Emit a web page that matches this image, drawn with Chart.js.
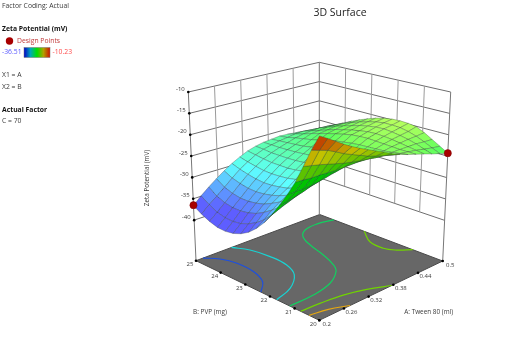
<!DOCTYPE html>
<html>
<head>
<meta charset="utf-8">
<title>3D Surface</title>
<script src="https://cdn.jsdelivr.net/npm/chart.js@4"></script>
<style>
  html, body { margin: 0; padding: 0; background: #fff; }
  canvas { display: block; }
</style>
</head>
<body>
<canvas id="surfaceChart" width="511" height="359"></canvas>
<script>
// values
var tweenLevels = [0.2,0.21875,0.2375,0.25625,0.275,0.29375,0.3125,0.33125,0.35,0.36875,0.3875,0.40625,0.425,0.44375,0.4625,0.48125,0.5];
var pvpLevels = [20,20.3125,20.625,20.9375,21.25,21.5625,21.875,22.1875,22.5,22.8125,23.125,23.4375,23.75,24.0625,24.375,24.6875,25];

// one row per tween level, one value per pvp level
var zetaRows = [
  [-10.4,-14,-18.1,-22.1,-25.4,-28.4,-31.2,-33.7,-35.7,-37.3,-38.4,-39.1,-39.4,-39.3,-38.7,-37.8,-36.6],
  [-11.5,-14.6,-18.5,-22.2,-25.4,-28.1,-30.5,-32.6,-34.4,-35.8,-36.8,-37.5,-37.8,-37.7,-37.2,-36.2,-34.9],
  [-12.7,-15.2,-18.9,-22.4,-25.4,-27.8,-29.8,-31.5,-32.9,-34.1,-35.1,-35.7,-36,-36,-35.6,-34.8,-33.4],
  [-13.9,-16.1,-19.4,-22.4,-25.3,-27.3,-29.1,-30.5,-31.7,-32.7,-33.6,-34.1,-34.4,-34.4,-34,-33.3,-32],
  [-15,-17.1,-19.9,-22.5,-25,-26.7,-28.2,-29.5,-30.8,-31.6,-32.2,-32.6,-32.8,-32.7,-32.3,-31.7,-30.7],
  [-16,-17.9,-20.4,-22.6,-24.6,-26.2,-27.4,-28.6,-29.8,-30.5,-30.9,-31.2,-31.3,-31.1,-30.7,-30.2,-29.5],
  [-16.9,-18.7,-20.8,-22.6,-24.2,-25.5,-26.6,-27.6,-28.5,-29.1,-29.5,-29.7,-29.8,-29.7,-29.4,-29,-28.5],
  [-17.8,-19.5,-21.1,-22.5,-23.7,-24.8,-25.8,-26.7,-27.3,-27.8,-28.2,-28.4,-28.4,-28.4,-28.2,-27.9,-27.6],
  [-18.7,-20.1,-21.4,-22.5,-23.3,-24.2,-24.9,-25.7,-26.2,-26.7,-27,-27.2,-27.3,-27.3,-27.3,-27.1,-27],
  [-19.7,-20.7,-21.7,-22.4,-23,-23.5,-24.1,-24.6,-25.1,-25.6,-26,-26.2,-26.4,-26.5,-26.6,-26.6,-26.6],
  [-20.5,-21.2,-21.8,-22.2,-22.6,-22.9,-23.2,-23.5,-24,-24.4,-24.9,-25.2,-25.6,-25.8,-26,-26.2,-26.4],
  [-21.2,-21.5,-21.8,-22,-22.1,-22.2,-22.3,-22.5,-22.8,-23.1,-23.7,-24.1,-24.6,-25,-25.4,-25.9,-26.2],
  [-21.8,-21.8,-21.8,-21.7,-21.6,-21.5,-21.4,-21.5,-21.7,-22.1,-22.6,-23.1,-23.7,-24.3,-25,-25.6,-26.3],
  [-22.4,-22.1,-21.8,-21.5,-21.2,-21,-20.9,-21,-21.3,-21.7,-22.2,-22.7,-23.4,-24.1,-24.8,-25.5,-26.5],
  [-23.1,-22.5,-21.8,-21.3,-20.9,-20.6,-20.4,-20.5,-20.8,-21.2,-21.8,-22.4,-23.1,-23.9,-24.7,-25.7,-26.8],
  [-23.7,-22.9,-22,-21.2,-20.6,-20.2,-20.1,-20.1,-20.4,-20.9,-21.5,-22.2,-23,-23.9,-24.8,-25.9,-27.1],
  [-24.3,-23.2,-22.1,-21,-20.1,-19.8,-19.7,-19.8,-20.1,-20.6,-21.3,-22.1,-23,-24,-25,-26.2,-27.5]
];

// floor contours as [tween, pvp] pairs
var contourLevels = [-35, -30, -25, -20, -20, -15];
var contourColors = ['#1c4fe0', '#18d4d4', '#12d060', '#70d400', '#70d400', '#e6a810'];
var contourPaths = [
  [[0.217,25],[0.2375,24.65],[0.248,24.14],[0.246,23.44],[0.23,22.8],[0.2,22.37]],
  [[0.286,25],[0.303,24.53],[0.31,23.83],[0.307,23.11],[0.289,22.5],[0.247,21.97],[0.2,21.73]],
  [[0.5,24.42],[0.467,24.55],[0.433,24.47],[0.41,24.17],[0.394,23.61],[0.381,22.86],[0.365,22.18],[0.349,21.81],[0.31,21.4],[0.258,21.21],[0.2,21.2]],
  [[0.2,20.76],[0.244,20.71],[0.294,20.6],[0.337,20.36],[0.376,20]],
  [[0.5,23.19],[0.475,22.54],[0.471,21.93],[0.481,21.55],[0.5,21.22]],
  [[0.2,20.41],[0.239,20.28],[0.275,20]]
];

var designTween = [0.2, 0.5];
var designPvp = [25, 20];
var designZeta = [-36.51, -24.3];

var tweenTicks = [0.2, 0.26, 0.32, 0.38, 0.44, 0.5];
var pvpTicks = [20, 21, 22, 23, 24, 25];
var zetaTicks = [-10, -15, -20, -25, -30, -35, -40];

var tweenMin = 0.2, tweenMax = 0.5;
var pvpMin = 20, pvpMax = 25;
var zetaFloor = -49.5, zetaTop = -10;

// box corners on the page: F front, R right, K back, L left
var floorBox = {F: [319.3, 320.3], R: [442.7, 261], K: [319.7, 214.5], L: [196, 260.7]};
var topBox = {F: [319.5, 134], R: [450.7, 92], K: [319.3, 62.3], L: [188.3, 92]};

function corner(box, u, v, n) {
  return box.F[n] * (1 - u) * (1 - v) + box.R[n] * u * (1 - v) + box.K[n] * u * v + box.L[n] * (1 - u) * v;
}

function project(tween, pvp, zeta) {
  var u = (tween - tweenMin) / (tweenMax - tweenMin);
  var v = (pvp - pvpMin) / (pvpMax - pvpMin);
  var t = (zeta - zetaFloor) / (zetaTop - zetaFloor);
  return {
    x: corner(floorBox, u, v, 0) * (1 - t) + corner(topBox, u, v, 0) * t,
    y: corner(floorBox, u, v, 1) * (1 - t) + corner(topBox, u, v, 1) * t
  };
}

// colour ramp of the response
var rampStops = [[0, 0, 255], [0, 255, 255], [0, 255, 0], [255, 255, 0], [255, 0, 0]];
var rampLow = -36.51, rampHigh = -10.23;

function surfaceColor(zeta, underside) {
  if (underside) zeta = Math.max(zeta, -23.4);
  var f = (zeta - rampLow) / (rampHigh - rampLow) * 4;
  f = Math.max(0, Math.min(3.999, f));
  var k = Math.floor(f), w = f - k, c = [];
  for (var n = 0; n < 3; n++) {
    var val = rampStops[k][n] * (1 - w) + rampStops[k + 1][n] * w;
    c.push(Math.round(underside ? val * 0.76 : val * 0.63 + 255 * 0.37));
  }
  return 'rgb(' + c.join(',') + ')';
}

var datasets = [];

function addLine(points, color, width, fillColor, smooth) {
  datasets.push({
    data: points,
    showLine: true,
    borderColor: color,
    borderWidth: width,
    backgroundColor: fillColor || 'transparent',
    fill: fillColor ? 'shape' : false,
    pointRadius: 0,
    tension: smooth ? 0.4 : 0
  });
}

// floor
var floorCorners = [[tweenMin, pvpMin], [tweenMax, pvpMin], [tweenMax, pvpMax], [tweenMin, pvpMax], [tweenMin, pvpMin]];
addLine(floorCorners.map(function (c) { return project(c[0], c[1], zetaFloor); }), '#4a4a4a', 1, '#676767');

// back walls
var lowestWall = zetaTicks[zetaTicks.length - 1];
zetaTicks.forEach(function (z) {
  addLine([project(tweenMin, pvpMax, z), project(tweenMax, pvpMax, z), project(tweenMax, pvpMin, z)], '#6e6e6e', 1);
});
tweenTicks.forEach(function (a) {
  var edge = a === tweenMin || a === tweenMax;
  addLine([project(a, pvpMax, edge ? zetaFloor : lowestWall), project(a, pvpMax, zetaTop)], edge ? '#777' : '#9a9a9a', 1);
});
pvpTicks.forEach(function (b) {
  if (b === pvpMax) return;
  var edge = b === pvpMin;
  addLine([project(tweenMax, b, edge ? zetaFloor : lowestWall), project(tweenMax, b, zetaTop)], edge ? '#777' : '#9a9a9a', 1);
});

// contours on the floor
contourPaths.forEach(function (path, n) {
  addLine(path.map(function (c) { return project(c[0], c[1], zetaFloor); }), contourColors[n], 1.2, null, true);
});

// tick marks
var tickDots = [];
tweenTicks.forEach(function (a) { tickDots.push(project(a, pvpMin, zetaFloor)); });
pvpTicks.forEach(function (b) { tickDots.push(project(tweenMin, b, zetaFloor)); });
zetaTicks.forEach(function (z) { tickDots.push(project(tweenMin, pvpMax, z)); });
datasets.push({data: tickDots, pointRadius: 1.3, pointBackgroundColor: '#000', pointBorderWidth: 0, showLine: false});

// surface, back cells first
for (var i = tweenLevels.length - 2; i >= 0; i--) {
  for (var j = pvpLevels.length - 2; j >= 0; j--) {
    var cell = [[i, j], [i + 1, j], [i + 1, j + 1], [i, j + 1], [i, j]].map(function (p) {
      return project(tweenLevels[p[0]], pvpLevels[p[1]], zetaRows[p[0]][p[1]]);
    });
    var area = 0;
    for (var q = 0; q < 4; q++) {
      area += cell[q].x * cell[q + 1].y - cell[q + 1].x * cell[q].y;
    }
    var mean = (zetaRows[i][j] + zetaRows[i + 1][j] + zetaRows[i + 1][j + 1] + zetaRows[i][j + 1]) / 4;
    addLine(cell, 'rgba(45,55,50,0.55)', 0.55, surfaceColor(mean, area > 0));
  }
}

// design points
datasets.push({
  data: designTween.map(function (a, n) { return project(a, designPvp[n], designZeta[n]); }),
  pointRadius: 3.6,
  pointBackgroundColor: '#a80000',
  pointBorderColor: '#7a0000',
  pointBorderWidth: 0.5,
  showLine: false,
  clip: false
});

// chart.js paints the first dataset last
datasets.reverse();

var labelGrey = '#3a3a3a';
var fontName = '"Open Sans", sans-serif';

function label(ctx, text, x, y, size, color, align, bold) {
  ctx.font = (bold ? 'bold ' : '') + size + 'px ' + fontName;
  ctx.fillStyle = color;
  ctx.textAlign = align || 'left';
  ctx.textBaseline = 'middle';
  ctx.fillText(text, x, y);
}

var labelsPlugin = {
  id: 'surfaceLabels',
  afterDraw: function (chart) {
    var ctx = chart.ctx;
    ctx.save();

    label(ctx, '3D Surface', 340, 13, 10.5, '#222', 'center');

    // left panel
    label(ctx, 'Factor Coding: Actual', 2, 6.5, 6.8, labelGrey);
    label(ctx, 'Zeta Potential (mV)', 2, 29.5, 6.8, '#111', 'left', true);
    ctx.beginPath();
    ctx.arc(9.5, 41, 3.7, 0, Math.PI * 2);
    ctx.fillStyle = '#a80000';
    ctx.fill();
    label(ctx, 'Design Points', 17, 41, 6.8, '#c03a3a');
    label(ctx, '-36.51', 2, 52.5, 6.8, '#5a5aff');
    var bar = ctx.createLinearGradient(24, 0, 50, 0);
    ['#0000c8', '#00a8b8', '#00e000', '#b0a000', '#d01000'].forEach(function (c, n) {
      bar.addColorStop(n / 4, c);
    });
    ctx.fillStyle = bar;
    ctx.fillRect(24, 47.5, 26, 10);
    ctx.strokeStyle = '#777';
    ctx.lineWidth = 0.5;
    ctx.strokeRect(24, 47.5, 26, 10);
    label(ctx, '-10.23', 52.5, 52.5, 6.8, '#ff4a4a');
    label(ctx, 'X1 = A', 2, 75.5, 6.8, labelGrey);
    label(ctx, 'X2 = B', 2, 87, 6.8, labelGrey);
    label(ctx, 'Actual Factor', 2, 110, 6.8, '#111', 'left', true);
    label(ctx, 'C = 70', 2, 121, 6.8, labelGrey);

    // axis numbers
    zetaTicks.forEach(function (z) {
      var p = project(tweenMin, pvpMax, z);
      label(ctx, String(z), p.x - 3.5, p.y - 3, 6, labelGrey, 'right');
    });
    pvpTicks.forEach(function (b) {
      var p = project(tweenMin, b, zetaFloor);
      label(ctx, String(b), p.x - 6, p.y + 3.8, 6, labelGrey, 'center');
    });
    tweenTicks.forEach(function (a) {
      var p = project(a, pvpMin, zetaFloor);
      label(ctx, String(a), p.x + 7.5, p.y + 3.8, 6, labelGrey, 'center');
    });

    // axis titles
    label(ctx, 'B: PVP (mg)', 210, 311.7, 6.4, labelGrey, 'center');
    label(ctx, 'A: Tween 80 (ml)', 428.7, 311.7, 6.4, labelGrey, 'center');
    ctx.translate(147, 178);
    ctx.rotate(-Math.PI / 2);
    label(ctx, 'Zeta Potential (mV)', 0, 0, 6.4, labelGrey, 'center');

    ctx.restore();
  }
};

new Chart(document.getElementById('surfaceChart'), {
  type: 'scatter',
  data: {datasets: datasets},
  options: {
    responsive: false,
    animation: false,
    layout: {padding: 0, autoPadding: false},
    plugins: {
      legend: {display: false},
      tooltip: {enabled: false},
      title: {display: false}
    },
    scales: {
      x: {type: 'linear', display: false, min: 0, max: 511},
      y: {type: 'linear', display: false, min: 0, max: 359, reverse: true}
    }
  },
  plugins: [labelsPlugin]
});
</script>
</body>
</html>
